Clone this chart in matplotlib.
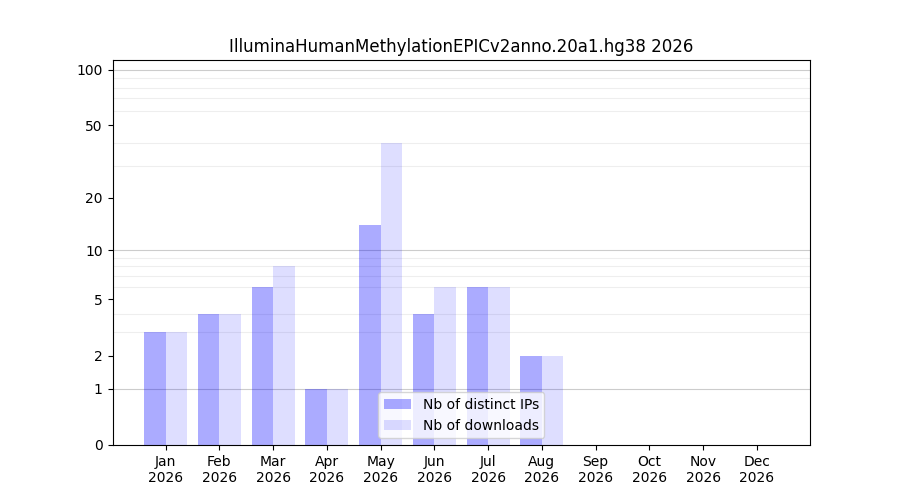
import matplotlib
matplotlib.use("Agg")
import matplotlib.pyplot as plt
import numpy as np

months = ["Jan", "Feb", "Mar", "Apr", "May", "Jun",
          "Jul", "Aug", "Sep", "Oct", "Nov", "Dec"]
year = "2026"
distinct_ips = [3, 4, 6, 1, 14, 4, 6, 2, 0, 0, 0, 0]
downloads = [3, 4, 8, 1, 40, 6, 6, 2, 0, 0, 0, 0]
yticks = [0, 1, 2, 5, 10, 20, 50, 100]


def forward(y):
    return np.log10(np.asarray(y, dtype=float) + 1)


def inverse(y):
    return 10 ** np.asarray(y, dtype=float) - 1


def main():
    fig, ax = plt.subplots(figsize=(9, 5), dpi=100)
    x = np.arange(len(months))
    ax.bar(x - 0.2, distinct_ips, width=0.4, color="blue", alpha=0.33,
           label="Nb of distinct IPs")
    ax.bar(x + 0.2, downloads, width=0.4, color="blue", alpha=0.13,
           label="Nb of downloads")
    ax.set_yscale("function", functions=(forward, inverse))
    ax.set_ylim(0, 113)
    ax.set_yticks(yticks)
    ax.set_yticklabels([str(t) for t in yticks])
    minor = [m * d for d in (1, 10) for m in range(2, 10)]
    ax.set_yticks(minor, minor=True)
    ax.tick_params(axis="y", which="minor", length=0)
    ax.yaxis.grid(True, which="minor", color="#eeeeee", linewidth=0.8)
    for v in (1, 10, 100):
        ax.axhline(v, color="#cccccc", linewidth=0.8, zorder=0)
    ax.set_axisbelow(True)
    ax.set_xticks(x)
    ax.set_xticklabels([f"{m}\n{year}" for m in months])
    ax.set_title("IlluminaHumanMethylationEPICv2anno.20a1.hg38 2026")
    ax.legend(loc="lower center")
    fig.savefig("out.png")


if __name__ == "__main__":
    main()
